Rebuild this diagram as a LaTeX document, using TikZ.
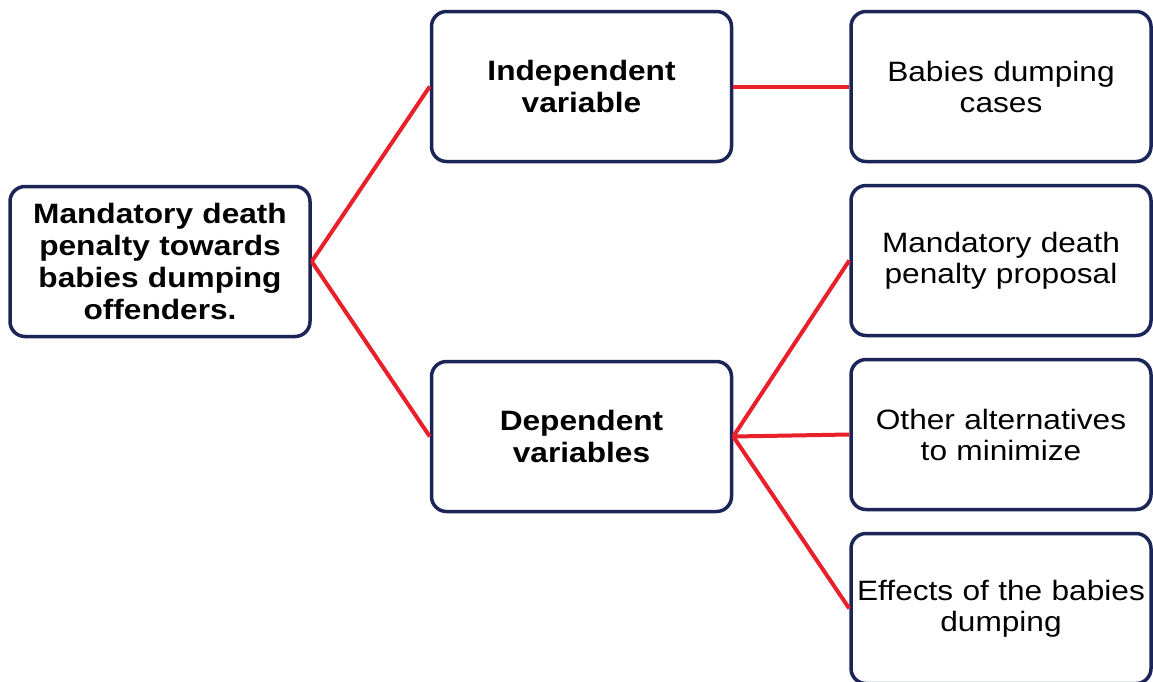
\documentclass[tikz,border=0pt]{standalone}
\usepackage{fontspec}
\setmainfont{Liberation Sans}[FakeStretch=1.13]
\usepackage{tikz}
\usetikzlibrary{positioning}

\definecolor{boxnavy}{HTML}{1B2557}
\definecolor{linkred}{HTML}{E8202A}

\tikzset{
    basebox/.style={draw=boxnavy, line width=3.5pt, rounded corners=15pt, fill=white,
        minimum width=300pt, minimum height=150pt, align=center, inner sep=0pt, text width=294pt},
    topicbox/.style={basebox, font=\fontsize{28}{32}\selectfont\bfseries},
    varbox/.style={basebox, font=\fontsize{28}{32}\selectfont\bfseries},
    itembox/.style={basebox, font=\fontsize{28}{31}\selectfont},
    link/.style={draw=linkred, line width=4pt},
}

\begin{document}
\begin{tikzpicture}[x=1pt, y=1pt]
        \useasboundingbox (0,0) rectangle (1153,-681);
        \node[topicbox] (topic) at (160,-261.5) {Mandatory death\\penalty towards\\babies dumping\\offenders.};
        \node[varbox, right=118pt of topic, yshift=175pt] (indep) {Independent\\variable}; % top branch
        \node[varbox, right=118pt of topic, yshift=-175pt] (dep) {Dependent\\variables}; % bottom branch

        \node[itembox, right=116pt of indep] (cases) {Babies dumping\\cases};
        \node[itembox, below=20.5pt of cases] (proposal) {Mandatory death\\penalty proposal};
        \node[itembox, below=20.5pt of proposal] (alternatives) {Other alternatives\\to minimize};
        \node[itembox, below=20.5pt of alternatives] (effects) {Effects of the babies\\dumping};

        \draw[link] (topic.east) -- (indep.west);
        \draw[link] (topic.east) -- (dep.west);
        \draw[link] (indep.east) -- (cases.west);
        \draw[link] (dep.east) -- (proposal.west);
        \draw[link] (dep.east) -- (alternatives.west);
        \draw[link] (dep.east) -- (effects.west);
    \end{tikzpicture}
\end{document}
